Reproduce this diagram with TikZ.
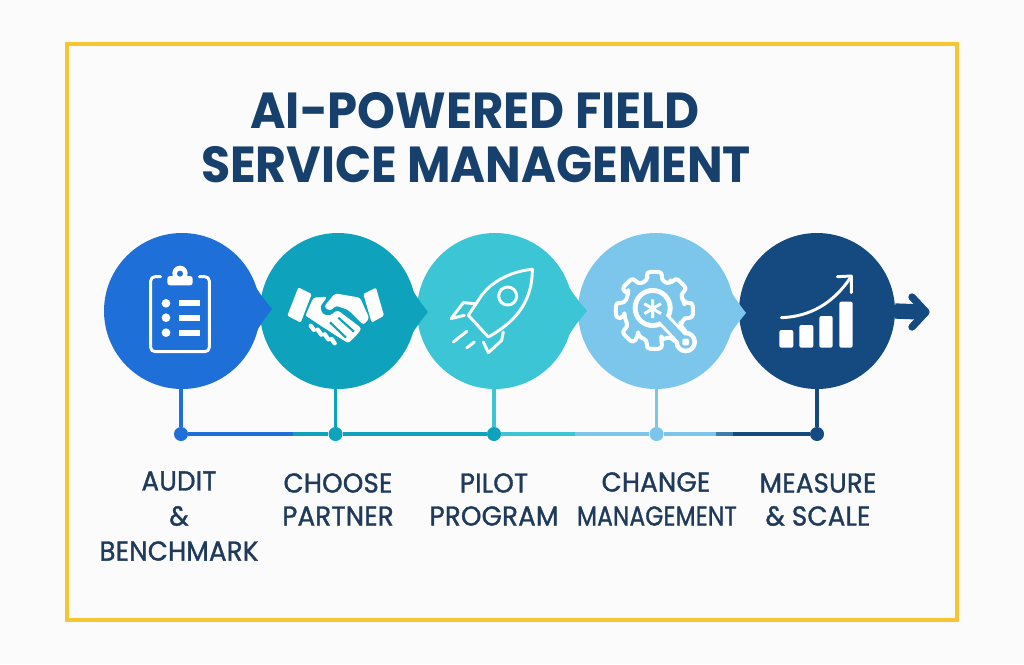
\documentclass[tikz,border=0pt]{standalone}
\usepackage{fontspec}
\setmainfont{Poppins}
\newfontfamily\titlefont[FakeStretch=0.95]{Poppins}
\newfontfamily\labelfont[FakeStretch=0.95,LetterSpace=1,FakeBold=1.3]{Poppins}
\usetikzlibrary{positioning}
\definecolor{stepa}{HTML}{1F6FD8}
\definecolor{stepb}{HTML}{0EA2BC}
\definecolor{stepc}{HTML}{3CC6D5}
\definecolor{stepd}{HTML}{7CC6EC}
\definecolor{stepe}{HTML}{154A80}
\definecolor{titleblue}{HTML}{17406D}
\definecolor{labelblue}{HTML}{1F3A5A}
\definecolor{frameyellow}{HTML}{F7C531}
\definecolor{paper}{HTML}{FBFBFC}
\tikzstyle{stepdisc} = [circle,inner sep=0pt,outer sep=0pt,minimum size=117pt]
\tikzstyle{stepdot} = [circle,inner sep=0pt,minimum size=10.5pt]
\tikzstyle{stepline} = [line width=2.3pt]
\tikzstyle{steplabel} = [font=\labelfont\fontsize{20.5}{24}\selectfont,text=labelblue,inner sep=0pt]
\tikzstyle{titleline} = [font=\titlefont\bfseries\fontsize{38}{44}\selectfont,text=titleblue,inner sep=0pt]
\tikzstyle{iconline} = [white,line width=2.2pt,line cap=round,line join=round]
\tikzstyle{iconzoom} = [x=.25pt,y=-.25pt]

\begin{document}
\begin{tikzpicture}[x=.75pt,y=-.75pt]
\useasboundingbox (0,0) rectangle (1024,664);
\fill[paper] (0,0) rectangle (1024,664);
\draw[frameyellow,line width=2.3pt] (67,44) rectangle (957,620);

\node[titleline] (titlea) at (475,111) {AI-POWERED FIELD};
\node[titleline] (titleb) at (476,165) {\scalebox{.985}[1]{SERVICE MANAGEMENT}};

% arrow out of the last step
\node[stepdisc,fill=stepe] (measure) at (817,311) {};
\coordinate (arrowend) at (921,312);
\draw[stepe,line width=11.5pt] (measure.east) -- (arrowend);
\draw[stepe,line width=5.5pt,line cap=round,line join=round] (912,297) -- (926,312) -- (912,327);

% discs, right to left so each point lies on the next disc
\node[stepdisc,fill=stepd] (change) at (656,311) {};
\coordinate (tipd) at (746,313);
\fill[stepd] (change.38) to[bend right=8] (tipd) to[bend right=8] (change.-38) -- cycle;
\node[stepdisc,fill=stepc] (pilot) at (495,311) {};
\coordinate (tipc) at (587,311);
\fill[stepc] (pilot.38) to[bend right=8] (tipc) to[bend right=8] (pilot.-38) -- cycle;
\node[stepdisc,fill=stepb] (choose) at (338,311) {};
\coordinate (tipb) at (428,312);
\fill[stepb] (choose.38) to[bend right=8] (tipb) to[bend right=8] (choose.-38) -- cycle;
\node[stepdisc,fill=stepa] (audit) at (182,311) {};
\coordinate (tipa) at (272,309);
\fill[stepa] (audit.38) to[bend right=8] (tipa) to[bend right=8] (audit.-38) -- cycle;

% clipboard
\begin{scope}[shift={(90,220)},iconzoom]
\draw[iconline] (212,170) -- (195,170) arc[start angle=-90,end angle=-180,radius=13] -- (182,382) arc[start angle=180,end angle=90,radius=13] -- (345,395) arc[start angle=90,end angle=0,radius=13] -- (358,183) arc[start angle=0,end angle=-90,radius=13] -- (328,170);
\fill[white,rounded corners=2pt] (232,196) -- (232,168) -- (308,168) -- (308,196) -- cycle;
\fill[white] (270,160) circle (23);
\fill[stepa] (270,161) circle (9);
\foreach \y in {250,293,338} {
  \fill[white] (228,\y) circle (13);
  \fill[white] (268,\y-9) rectangle (330,\y+9);
}
\end{scope}

% handshake
\begin{scope}[shift={(280,275)},iconzoom]
\fill[white,rounded corners=1pt] (55,37) -- (95,57) -- (62,143) -- (22,122) -- cycle;
\fill[white,rounded corners=1pt] (250,57) -- (288,38) -- (312,122) -- (275,143) -- cycle;
\fill[white,rounded corners=2pt] (100,68) -- (142,65) -- (120,95) -- (128,118) -- (150,122) -- (172,105) -- (245,160) -- (232,178) -- (205,205) -- (178,188) -- (75,125) -- cycle;
\fill[white,rounded corners=2pt] (132,95) -- (165,55) -- (240,68) -- (268,130) -- (250,150) -- (205,105) -- (168,92) -- (150,108) -- cycle;
\draw[stepb,line width=1.6pt] (175,128) -- (222,170) (150,142) -- (198,188);
\draw[stepb,line width=1.6pt] (75,125) -- (185,198);
\draw[white,line width=3.2pt,line cap=round] (92,152) -- (102,165) (113,164) -- (124,179) (134,178) -- (145,193) (155,192) -- (164,205);
\end{scope}

% rocket
\begin{scope}[shift={(445,262)},iconzoom]
\draw[iconline] (262,22) .. controls (195,28) and (140,60) .. (110,100) -- (70,160) -- (130,225) .. controls (200,185) and (262,130) .. (262,22) -- cycle;
\draw[iconline] (188,102) circle (27);
\draw[iconline] (90,125) -- (55,122) -- (18,170) -- (58,160);
\draw[iconline] (175,210) -- (170,235) -- (130,272) -- (115,240);
\draw[iconline] (25,240) -- (65,208) (65,258) -- (88,240);
\end{scope}

% gear with wrench
\begin{scope}[shift={(605,262)},iconzoom]
\begin{scope}[shift={(148,145)}]
\draw[iconline,line width=3pt,rounded corners=3pt] (-19:92) \foreach \a in {0,45,...,315} { -- ({\a-13}:92) -- ({\a-12}:118) -- ({\a+12}:118) -- ({\a+13}:92) -- ({\a+32}:92) } -- cycle;
\end{scope}
\draw[white,line width=10.5pt,line cap=round] (150,145) -- (240,240);
\fill[white] (143,138) circle (60);
\fill[white] (242,240) circle (34);
\draw[stepd,line width=6pt,line cap=round] (150,145) -- (240,240);
\fill[stepd] (143,138) circle (45);
\fill[stepd] (242,240) circle (20);
\fill[white,rounded corners=1pt] (232,230) rectangle (252,250);
\draw[white,line width=2.2pt] (143,112) -- (143,168) (118,125) -- (168,155) (118,155) -- (168,125);
\end{scope}

% chart
\begin{scope}[shift={(730,220)},iconzoom]
\fill[white,rounded corners=1.5pt] (148,330) rectangle (190,383);
\fill[white,rounded corners=1.5pt] (208,315) rectangle (250,383);
\fill[white,rounded corners=1.5pt] (268,288) rectangle (308,383);
\fill[white,rounded corners=1.5pt] (328,245) rectangle (368,383);
\draw[iconline] (154,293) .. controls (240,290) and (310,250) .. (362,172);
\draw[iconline] (322,170) -- (364,168) -- (364,218);
\end{scope}

% dots and the line under the discs
\node[stepdot,fill=stepa] (dota) at (181,434) {};
\node[stepdot,fill=stepb] (dotb) at (335.5,434) {};
\node[stepdot,fill=stepb] (dotc) at (494,434) {};
\node[stepdot,fill=stepd] (dotd) at (656.5,434) {};
\node[stepdot,fill=stepe] (dote) at (817,434) {};
\coordinate (joina) at (293,434);
\coordinate (joinc) at (575,434);
\coordinate (joind) at (716,434);
\coordinate (joine) at (733,434);
\draw[stepline,stepa] (dota) -- (joina);
\draw[stepline,stepb] (joina) -- (dotb);
\draw[stepline,stepb] (dotb) -- (dotc);
\draw[stepline,stepc] (dotc) -- (joinc);
\draw[stepline,stepd] (joinc) -- (dotd);
\draw[stepline,stepd] (dotd) -- (joind);
\draw[stepline,stepe!60!stepd] (joind) -- (joine);
\draw[stepline,stepe] (joine) -- (dote);
\draw[stepline,stepa] (dota) -- (dota |- audit.south);
\draw[stepline,stepb] (dotb) -- (dotb |- choose.south);
\draw[stepline,stepc] (dotc) -- (dotc |- pilot.south);
\draw[stepline,stepd] (dotd) -- (dotd |- change.south);
\draw[stepline,stepe] (dote) -- (dote |- measure.south);

% labels
\node[steplabel] (lauda) at (179,481) {AUDIT};
\node[steplabel] (laudb) at (179,516) {\&};
\node[steplabel] (laudc) at (179,551) {BENCHMARK};
\node[steplabel] (lchoa) at (338,483) {CHOOSE};
\node[steplabel] (lchob) at (338,516) {PARTNER};
\node[steplabel] (lpila) at (494,483) {PILOT};
\node[steplabel] (lpilb) at (494,516) {PROGRAM};
\node[steplabel] (lchaa) at (656,482) {CHANGE};
\node[steplabel] (lchab) at (657,516) {\scalebox{.89}[1]{MANAGEMENT}};
\node[steplabel] (lmeaa) at (818,483) {MEASURE};
\node[steplabel] (lmeab) at (818,516) {\& SCALE};
\end{tikzpicture}
\end{document}
